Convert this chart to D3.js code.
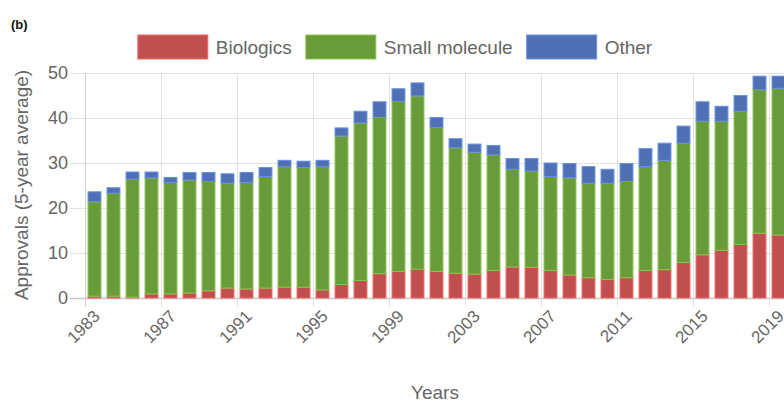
<!DOCTYPE html>
<html>
<head>
<meta charset="utf-8">
<script src="https://cdn.jsdelivr.net/npm/d3@7"></script>
<style>
	body { margin: 0; background: #fff; }
	svg { display: block; overflow: hidden; }
	text { font-family: 'Liberation Sans', Arial, sans-serif; }
</style>
</head>
<body>
<div id="chart"></div>
<script>
var years = d3.range(1983, 2020);
var tickYears = [1983, 1987, 1991, 1995, 1999, 2003, 2007, 2011, 2015, 2019];
var seriesNames = ['Biologics', 'Small molecule', 'Other'];
var biologics = [0.4, 0.4, 0.2, 0.9, 0.9, 1.1, 1.6, 2.2, 2.0, 2.2, 2.4, 2.4, 1.8, 3.0, 3.9, 5.4, 5.9, 6.4, 5.9,
	5.5, 5.3, 6.1, 6.9, 6.8, 6.1, 5.1, 4.5, 4.1, 4.5, 6.1, 6.3, 7.9, 9.6, 10.6, 11.9, 14.4, 14.0];
var smallMolecule = [21.0, 22.9, 26.2, 25.8, 24.8, 25.1, 24.3, 23.3, 23.7, 24.8, 26.8, 26.6, 27.4, 33.0, 35.0, 34.7, 37.8, 38.5, 32.0,
	27.9, 27.1, 25.7, 21.7, 21.4, 20.9, 21.6, 21.0, 21.4, 21.4, 23.1, 24.3, 26.5, 29.7, 28.7, 29.6, 31.9, 32.6];
var other = [2.2, 1.2, 1.6, 1.3, 1.1, 1.7, 2.0, 2.1, 2.2, 2.0, 1.4, 1.4, 1.4, 1.8, 2.6, 3.5, 2.8, 2.9, 2.2,
	2.0, 1.8, 2.1, 2.4, 2.8, 3.0, 3.2, 3.7, 3.1, 4.0, 4.0, 3.8, 3.8, 4.3, 3.3, 3.5, 3.0, 2.7];
var yTicks = [0, 10, 20, 30, 40, 50];

var width = 784;
var height = 403;
var plotLeft = 85;
var plotTop = 73;
var plotBottom = 298;
var plotRight = 788;
var textColor = '#666';
var gridColor = '#e2e2e2';

var color = d3.scaleOrdinal()
	.domain(seriesNames)
	.range(['#c0504f', '#6a9b3a', '#5070b4']);

var table = years.map(function(yr, i){
	return {year: yr, 'Biologics': biologics[i], 'Small molecule': smallMolecule[i], 'Other': other[i]};
});
var stacked = d3.stack().keys(seriesNames)(table);

var x = d3.scaleBand()
	.domain(years)
	.range([plotLeft, plotRight])
	.paddingInner(0.32)
	.paddingOuter(0.16);

var y = d3.scaleLinear()
	.domain([0, 50])
	.range([plotBottom, plotTop]);

var svg = d3.select('#chart')
	.append('svg')
	.attr('width', width)
	.attr('height', height);

// grid
function gridX(yr){
	return Math.round(x(yr) - x.step() * x.paddingInner() / 2) + 0.5;
}

svg.append('g')
	.selectAll('line')
	.data(yTicks)
	.enter()
	.append('line')
	.attr('x1', plotLeft - 15)
	.attr('x2', plotRight)
	.attr('y1', function(d){ return Math.round(y(d)) + 0.5; })
	.attr('y2', function(d){ return Math.round(y(d)) + 0.5; })
	.attr('stroke', function(d){ return d === 0 ? '#c8c8c8' : gridColor; })
	.attr('stroke-width', function(d){ return d === 0 ? 1.5 : 1; });

svg.append('g')
	.selectAll('line')
	.data(tickYears)
	.enter()
	.append('line')
	.attr('x1', gridX)
	.attr('x2', gridX)
	.attr('y1', plotTop)
	.attr('y2', plotBottom + 9)
	.attr('stroke', function(d){ return d === 1983 ? '#d0d0d0' : gridColor; });

// bars
svg.append('g')
	.selectAll('g')
	.data(stacked)
	.enter()
	.append('g')
	.attr('fill', function(d){ return color(d.key); })
	.attr('stroke', function(d){ return d3.color(color(d.key)).brighter(0.7); })
	.attr('stroke-width', 1)
	.selectAll('rect')
	.data(function(d){ return d; })
	.enter()
	.append('rect')
	.attr('x', function(d){ return x(d.data.year); })
	.attr('width', x.bandwidth())
	.attr('y', function(d){ return y(d[1]); })
	.attr('height', function(d){ return y(d[0]) - y(d[1]); });

// y tick labels
svg.append('g')
	.selectAll('text')
	.data(yTicks)
	.enter()
	.append('text')
	.attr('x', plotLeft - 17)
	.attr('y', function(d){ return y(d); })
	.attr('dy', '0.36em')
	.attr('text-anchor', 'end')
	.attr('font-size', 18)
	.attr('fill', textColor)
	.text(function(d){ return d; });

// x tick labels
svg.append('g')
	.selectAll('text')
	.data(tickYears)
	.enter()
	.append('text')
	.attr('transform', function(d){
		return 'translate(' + (x(d) + x.bandwidth() / 2 - 2) + ',' + (plotBottom + 11) + ') rotate(-45)';
	})
	.attr('text-anchor', 'end')
	.attr('dy', '0.7em')
	.attr('font-size', 17)
	.attr('fill', textColor)
	.text(function(d){ return d; });

// axis titles
svg.append('text')
	.attr('transform', 'translate(28,185) rotate(-90)')
	.attr('text-anchor', 'middle')
	.attr('font-size', 19)
	.attr('fill', textColor)
	.text('Approvals (5-year average)');

svg.append('text')
	.attr('x', 435)
	.attr('y', 399)
	.attr('text-anchor', 'middle')
	.attr('font-size', 19)
	.attr('fill', textColor)
	.text('Years');

svg.append('text')
	.attr('x', 11)
	.attr('y', 29)
	.attr('font-size', 13)
	.attr('font-weight', 'bold')
	.attr('fill', '#111')
	.text('(b)');

// legend
var legendBoxW = 70;
var legendBoxH = 24;
var legendGap = 8;
var legendSpacing = 14;

var items = svg.append('g')
	.selectAll('.legend')
	.data(seriesNames)
	.enter()
	.append('g')
	.attr('class', 'legend');

items.append('rect')
	.attr('width', legendBoxW)
	.attr('height', legendBoxH)
	.attr('y', 35)
	.style('fill', color)
	.style('stroke', function(d){ return d3.color(color(d)).brighter(0.7); });

items.append('text')
	.attr('x', legendBoxW + legendGap)
	.attr('y', 53.5)
	.attr('font-size', 19)
	.attr('fill', textColor)
	.text(function(d){ return d; });

var widths = [];
items.each(function(){
	var w = legendBoxW + legendGap + d3.select(this).select('text').node().getComputedTextLength();
	widths.push(w);
});
var total = d3.sum(widths) + legendSpacing * (widths.length - 1);
var offset = 395 - total / 2;
items.attr('transform', function(d, i){
	var pos = offset;
	offset += widths[i] + legendSpacing;
	return 'translate(' + pos + ',0)';
});
</script>
</body>
</html>
